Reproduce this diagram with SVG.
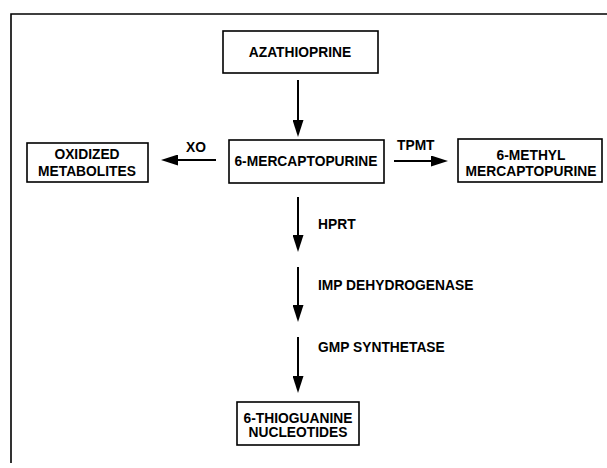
<svg xmlns="http://www.w3.org/2000/svg" width="607" height="468" viewBox="0 0 607 468">
  <style>
    .box { fill: #ffffff; stroke: #000000; stroke-width: 1.6; }
    .lbl { font-family: "Liberation Sans", Arial, Helvetica, sans-serif; font-weight: bold; font-size: 13.8px; fill: #000000; }
    .mid { text-anchor: middle; }
    .edge { stroke: #000000; stroke-width: 2; fill: none; marker-end: url(#arrow); }
    .frame { stroke: #000000; stroke-width: 1.6; fill: none; }
  </style>
  <defs>
    <marker id="arrow" viewBox="0 0 17 11" refX="1" refY="5.5" markerWidth="17" markerHeight="11" markerUnits="userSpaceOnUse" orient="auto">
      <path d="M0,0 L17,5.5 L0,11 Z" fill="#000000"/>
    </marker>
  </defs>
  <rect width="607" height="468" fill="#ffffff"/>
  <g id="frame">
    <polyline class="frame" points="11,463 11,14 607,14"/>
  </g>
  <g id="azathioprine">
    <rect class="box" x="223" y="31" width="155" height="42"/>
    <text class="lbl mid" x="300" y="57">AZATHIOPRINE</text>
  </g>
  <g id="mercaptopurine">
    <rect class="box" x="229" y="140" width="155" height="43"/>
    <text class="lbl mid" x="306" y="166">6-MERCAPTOPURINE</text>
  </g>
  <g id="oxidized">
    <rect class="box" x="27" y="143" width="121" height="39"/>
    <text class="lbl mid" x="87" y="159">OXIDIZED</text>
    <text class="lbl mid" x="87" y="176">METABOLITES</text>
  </g>
  <g id="methyl">
    <rect class="box" x="458" y="139" width="144" height="43"/>
    <text class="lbl mid" x="531" y="160">6-METHYL</text>
    <text class="lbl mid" x="531" y="176">MERCAPTOPURINE</text>
  </g>
  <g id="thioguanine">
    <rect class="box" x="237" y="402" width="122" height="43"/>
    <text class="lbl mid" x="298" y="423">6-THIOGUANINE</text>
    <text class="lbl mid" x="298" y="437">NUCLEOTIDES</text>
  </g>
  <g id="connectors">
    <line class="edge" x1="298" y1="80" x2="298" y2="121"/>
    <line class="edge" x1="216" y1="160" x2="177" y2="160"/>
    <line class="edge" x1="394" y1="161" x2="432" y2="161"/>
    <line class="edge" x1="298" y1="197" x2="298" y2="236"/>
    <line class="edge" x1="298" y1="267" x2="298" y2="306"/>
    <line class="edge" x1="298" y1="337" x2="298" y2="377"/>
    <text class="lbl mid" x="196" y="152">XO</text>
    <text class="lbl" x="397" y="150">TPMT</text>
    <text class="lbl" x="318" y="229">HPRT</text>
    <text class="lbl" x="318" y="290">IMP DEHYDROGENASE</text>
    <text class="lbl" x="318" y="352">GMP SYNTHETASE</text>
  </g>
</svg>
